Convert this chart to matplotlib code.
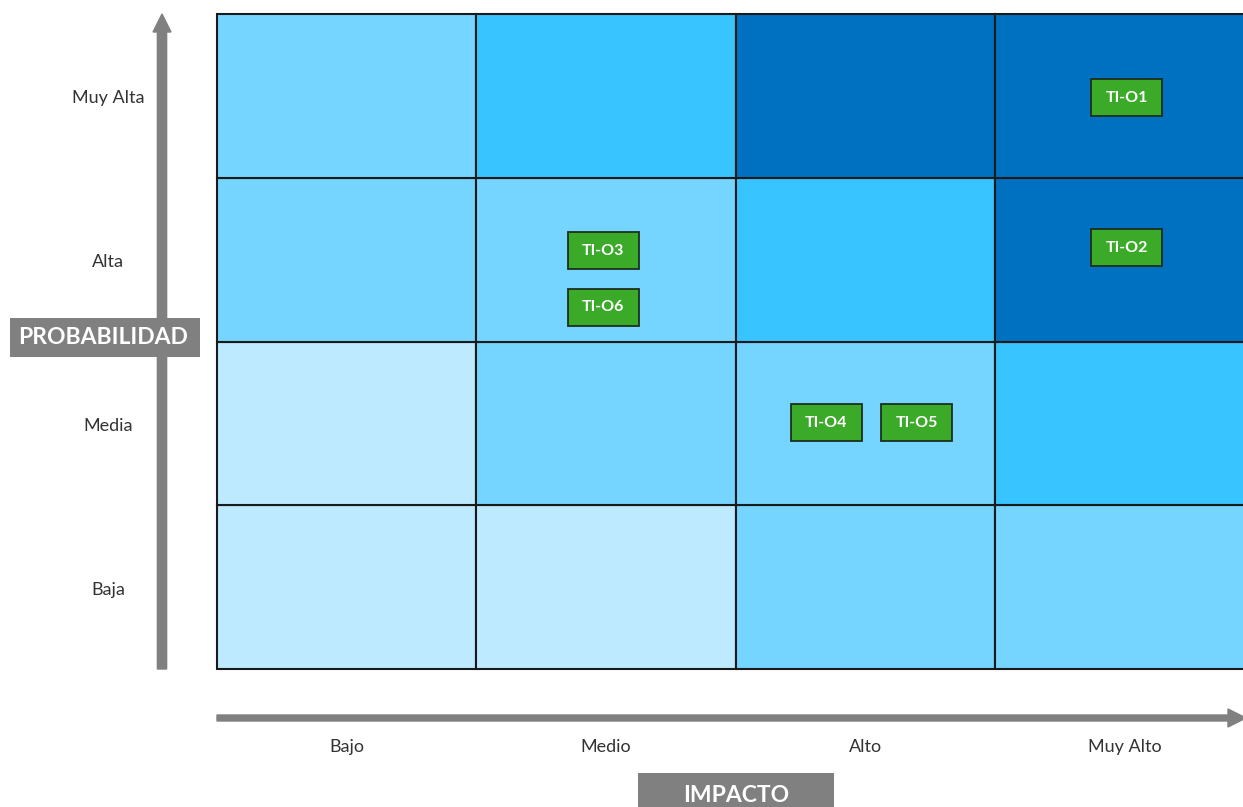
import matplotlib
matplotlib.use("Agg")
import matplotlib.pyplot as plt
from matplotlib.patches import Rectangle, FancyArrow

plt.rcParams['font.family'] = ['Lato', 'DejaVu Sans']

# data
impacto = ['Bajo', 'Medio', 'Alto', 'Muy Alto']
probabilidad = ['Baja', 'Media', 'Alta', 'Muy Alta']
# risk level per cell, rows = probabilidad (Baja..Muy Alta), cols = impacto
nivel = [
    [0, 0, 1, 1],
    [0, 1, 1, 2],
    [1, 1, 2, 3],
    [1, 2, 3, 3],
]
riesgos = ['TI-O1', 'TI-O2', 'TI-O3', 'TI-O4', 'TI-O5', 'TI-O6']
riesgo_impacto = [3, 3, 1, 2, 2, 1]
riesgo_prob = [3, 2, 2, 1, 1, 2]

# layout (offsets from cell centre, in cell units)
offsets = {
    'TI-O1': (0.01, -0.012),
    'TI-O2': (0.01, 0.073),
    'TI-O3': (-0.01, 0.055),
    'TI-O6': (-0.01, -0.29),
    'TI-O4': (-0.15, 0.005),
    'TI-O5': (0.20, 0.005),
}
colores = ['#BDEAFE', '#75D5FE', '#38C4FE', '#0070C0']
gris = '#808080'

W, H = 1243, 807
fig = plt.figure(figsize=(W / 100, H / 100), dpi=100)

x0, x1, y0, y1 = 217, 1254, 14, 669
ax = fig.add_axes([x0 / W, 1 - y1 / H, (x1 - x0) / W, (y1 - y0) / H])
ax.set_xlim(0, 4)
ax.set_ylim(0, 4)
ax.axis('off')

for r in range(4):
    for c in range(4):
        ax.add_patch(Rectangle((c, r), 1, 1, facecolor=colores[nivel[r][c]],
                               edgecolor='#1a1a1a', linewidth=1.5, clip_on=False))

cw = (x1 - x0) / 4
ch = (y1 - y0) / 4
bw, bh = 71 / cw, 37 / ch
for name, ci, ri in zip(riesgos, riesgo_impacto, riesgo_prob):
    dx, dy = offsets[name]
    cx, cy = ci + 0.5 + dx, ri + 0.5 + dy
    ax.add_patch(Rectangle((cx - bw / 2, cy - bh / 2), bw, bh, facecolor='#3CAA29',
                           edgecolor='#1e2e1e', linewidth=1.3, zorder=3))
    ax.text(cx, cy, name, ha='center', va='center', color='white',
            fontsize=11.5, fontweight='bold', zorder=4)

# tick labels
for i, lab in enumerate(probabilidad):
    ax.text((108 - x0) / cw, i + 0.5 - 0.015, lab, ha='center', va='center',
            fontsize=13, color='#333333', clip_on=False)
for i, lab in enumerate(impacto):
    ax.text(i + 0.5, -(747 - y1) / ch, lab, ha='center', va='center',
            fontsize=13, color='#333333', clip_on=False)

# arrows
fig.patches.append(FancyArrow(
    162 / W, 1 - 669 / H, 0, (669 - 32) / H, width=6 / H, head_width=18 / W,
    head_length=18 / H, length_includes_head=False, color=gris,
    transform=fig.transFigure, figure=fig))
fig.patches.append(FancyArrow(
    217 / W, 1 - 718 / H, (1228 - 217) / W, 0, width=6 / H, head_width=18 / H,
    head_length=18 / W, length_includes_head=False, color=gris,
    transform=fig.transFigure, figure=fig))

# axis titles
fig.patches.append(Rectangle((10 / W, 1 - 357 / H), 190 / W, 39 / H,
                             facecolor=gris, edgecolor='none',
                             transform=fig.transFigure, figure=fig, zorder=5))
fig.text(103 / W, 1 - 338 / H, 'PROBABILIDAD', ha='center', va='center',
         color='white', fontsize=16.5, fontweight='bold', zorder=6)
fig.patches.append(Rectangle((638 / W, 0), 196 / W, 34 / H,
                             facecolor=gris, edgecolor='none',
                             transform=fig.transFigure, figure=fig, zorder=5))
fig.text(736 / W, 1 - 795 / H, 'IMPACTO', ha='center', va='center',
         color='white', fontsize=16.5, fontweight='bold', zorder=6)

fig.savefig('out.png', dpi=100)
